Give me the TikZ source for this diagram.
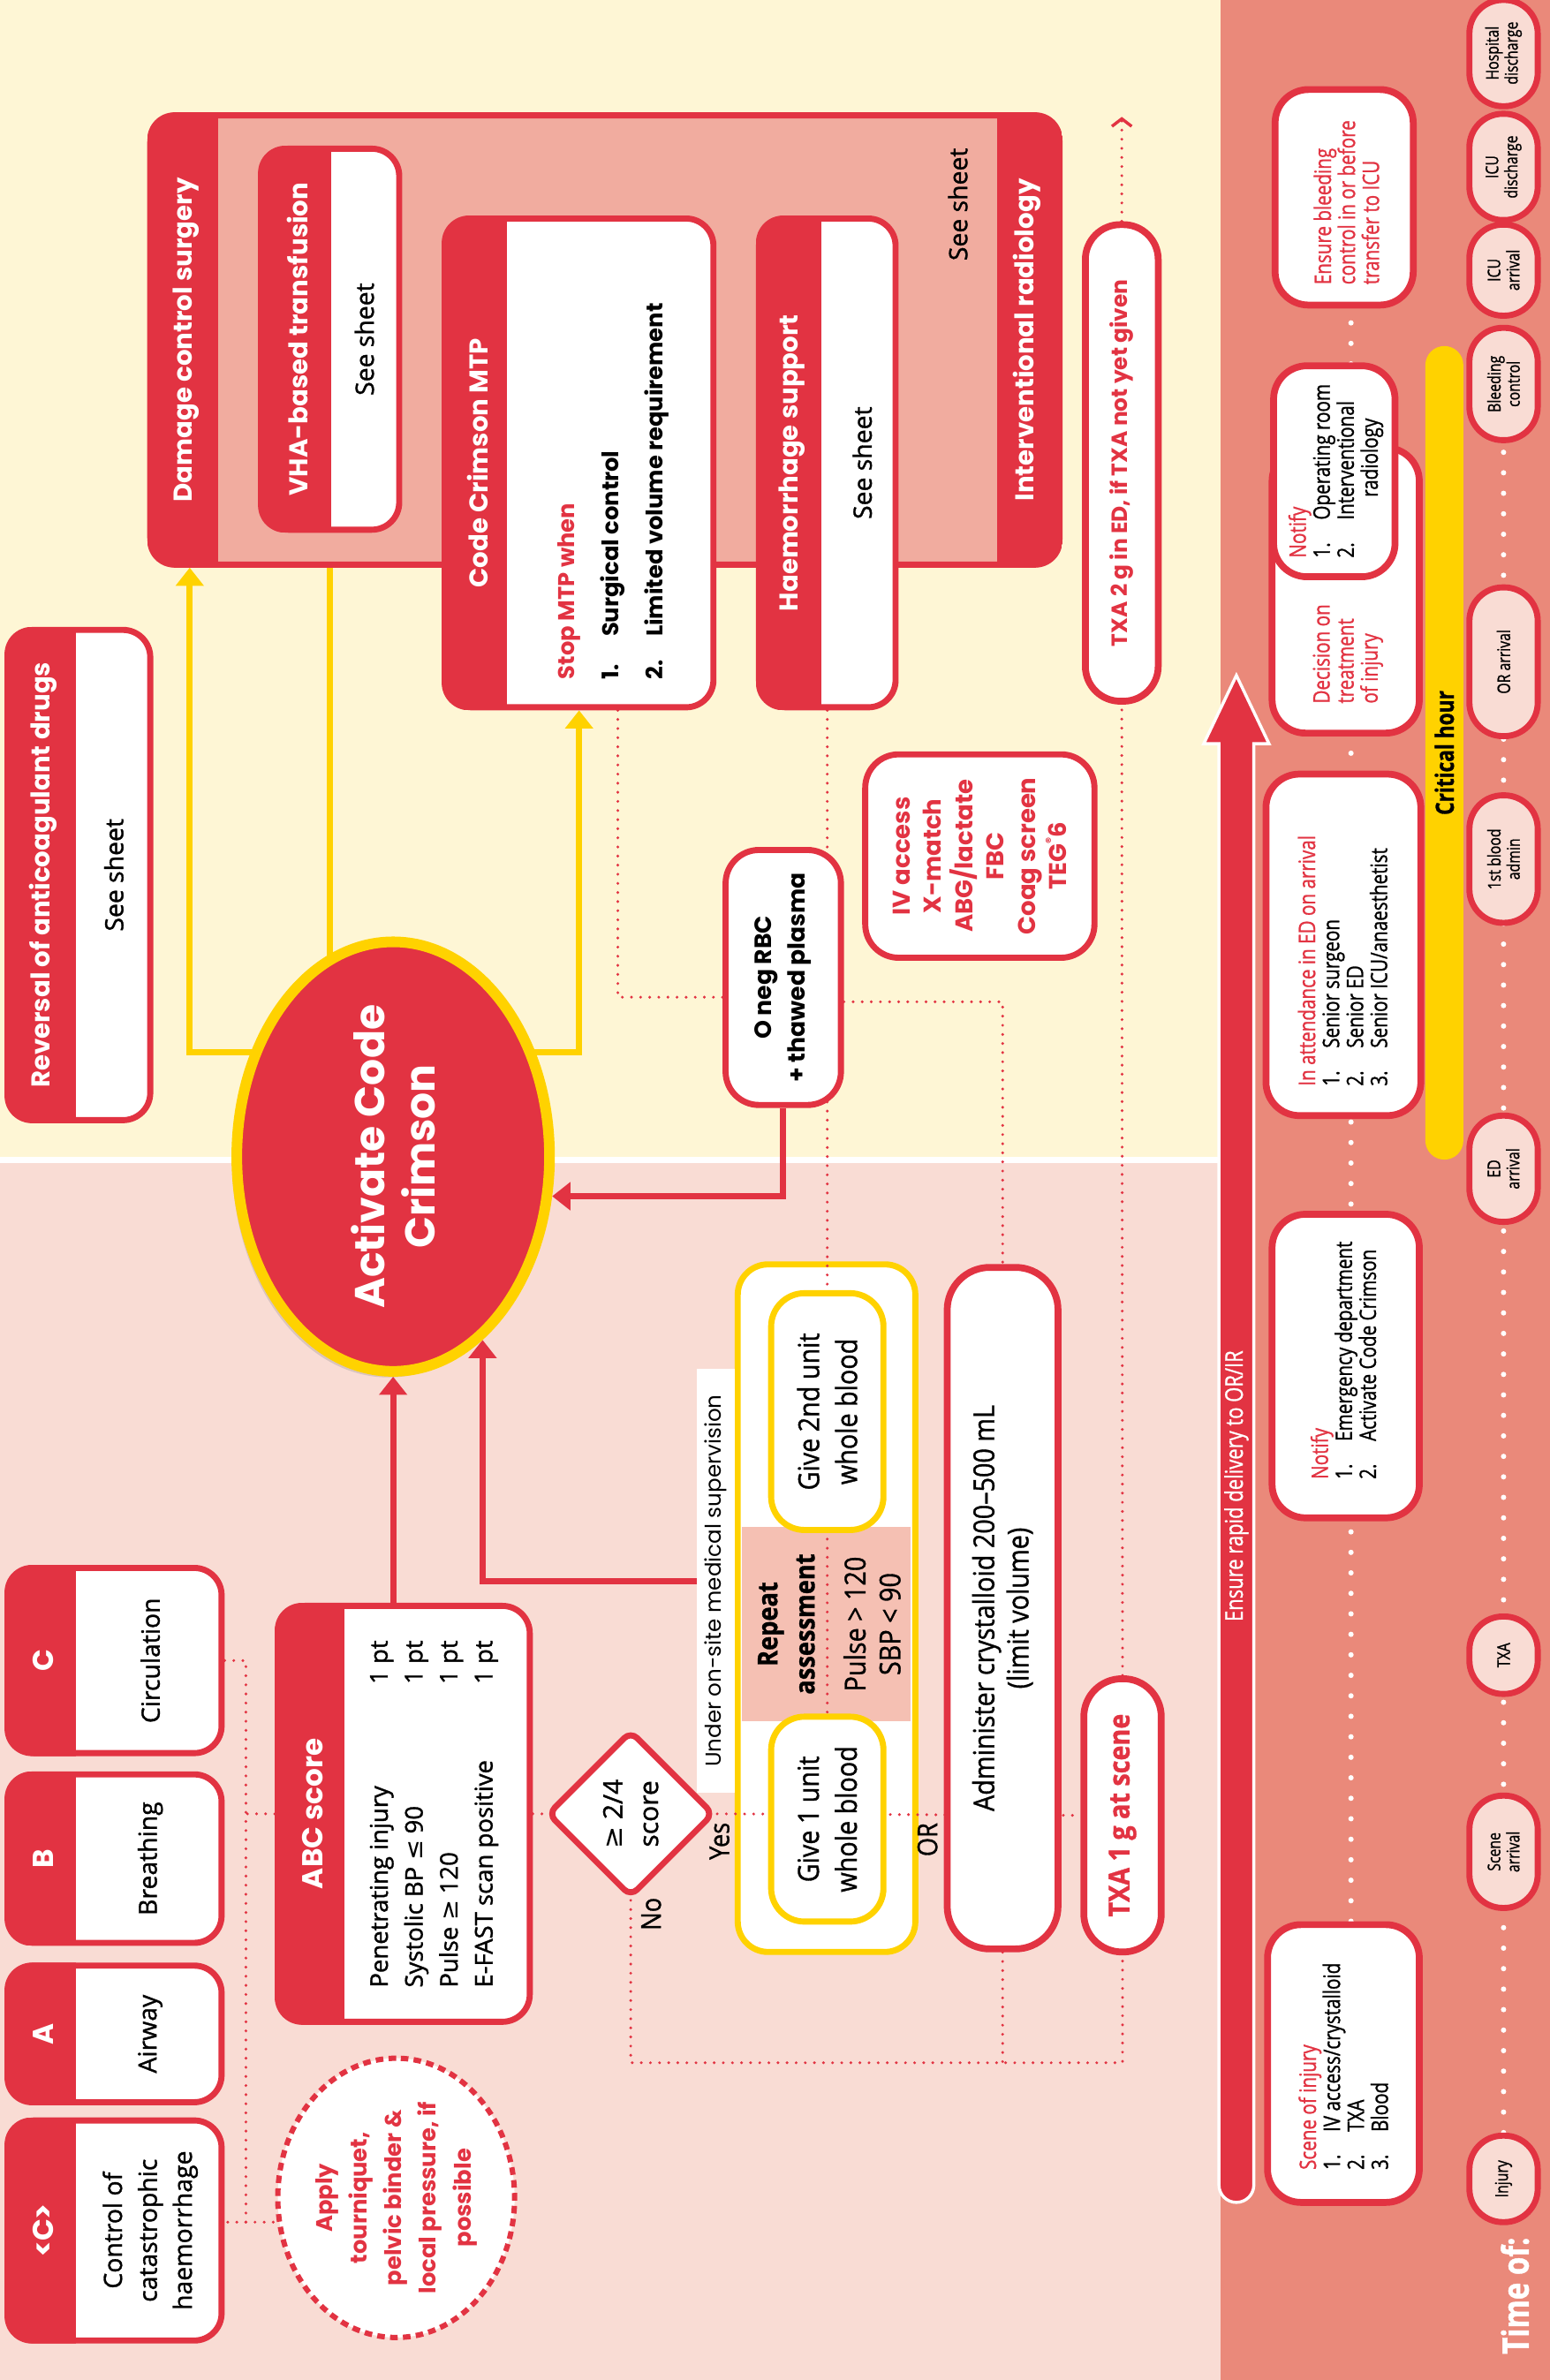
\documentclass[tikz,border=0pt]{standalone}
\usepackage{fontspec}
\setmainfont{Open Sans}
\newfontfamily\popfont{Poppins}
\newfontfamily\semifont[FakeBold=1.2]{Open Sans}
\newfontfamily\condfont[FakeStretch=0.88, FakeBold=1]{Open Sans}
\newfontfamily\narrowfont[FakeStretch=0.8, FakeBold=1]{Open Sans}
\newfontfamily\dejavu{DejaVu Sans}
\usetikzlibrary{calc, shapes.geometric, arrows.meta, shadows}

\definecolor{crimson}{HTML}{E23342}
\definecolor{ylw}{HTML}{FFD200}
\definecolor{bgyellow}{HTML}{FEF6D5}
\definecolor{bgpink}{HTML}{F9DCD4}
\definecolor{stripred}{HTML}{EA897A}
\definecolor{salmon}{HTML}{F1AC9F}
\definecolor{bandpink}{HTML}{F5C0B3}

\pgfdeclarelayer{bg}
\pgfdeclarelayer{lines}
\pgfsetlayers{bg,lines,main}

% red header band / footer band of a box node
\newcommand{\headfill}[2]{%
  \begin{scope}
    \clip[rounded corners=18pt] (#1.south west) rectangle (#1.north east);
    \fill[crimson] (#1.north west) rectangle ($(#1.north east)+(0,-#2)$);
  \end{scope}}
\newcommand{\footfill}[2]{%
  \begin{scope}
    \clip[rounded corners=18pt] (#1.south west) rectangle (#1.north east);
    \fill[crimson] (#1.south west) rectangle ($(#1.south east)+(0,#2)$);
  \end{scope}}

\tikzset{
  hbox/.style={draw=crimson, line width=4pt, fill=white, rounded corners=18pt, inner sep=0pt},
  ybox/.style={draw=ylw, line width=4pt, fill=white, rounded corners=20pt, inner sep=0pt},
  pillbox/.style={draw=crimson, line width=4.5pt, fill=white, inner sep=0pt},
  stripbox/.style={draw=crimson, line width=4.5pt, fill=white, rounded corners=22pt, inner sep=0pt},
  tpill/.style={draw=crimson, line width=4pt, fill=bgpink, rounded corners=22pt, minimum height=45pt,
    inner sep=0pt, align=center, font=\narrowfont\fontsize{11.5}{12.6}\selectfont},
  headtxt/.style={text=white, font=\popfont\bfseries\fontsize{17}{20}\selectfont},
  lettxt/.style={text=white, font=\popfont\bfseries\fontsize{19}{22}\selectfont},
  bodytxt/.style={align=center, font=\semifont\fontsize{16.5}{23}\selectfont},
  sheettxt/.style={font=\semifont\fontsize{16.5}{20}\selectfont},
  condtxt/.style={align=center, font=\condfont\fontsize{19}{25}\selectfont},
  striptxt/.style={anchor=west, align=left, font=\narrowfont\fontsize{15}{15.8}\selectfont},
  dotline/.style={crimson, line width=2pt, dash pattern=on 0pt off 6pt, line cap=round},
  wdots/.style={white, line width=3.5pt, dash pattern=on 0pt off 13.5pt, line cap=round},
  redarrow/.style={crimson, line width=4pt, -{Triangle[length=12pt, width=18pt]}},
  yarrow/.style={ylw, line width=4pt, -{Triangle[length=12pt, width=18pt]}},
}

\begin{document}
\begin{tikzpicture}[x=1pt, y=1pt]
\begin{scope}[rotate=90, transform shape]
\useasboundingbox (0,0) rectangle (1568,1021);

% Background panels
\begin{pgfonlayer}{bg}
  \fill[white] (0,0) rectangle (1568,1021);
  \fill[bgpink] (0,217) rectangle (802,1021);
  \fill[bgyellow] (806,217) rectangle (1568,1021);
  \fill[stripred] (0,0) rectangle (1568,217);
  % supervised group with the repeat band
  \node[ybox, minimum width=453pt, minimum height=117pt] (grp) at (508.5,476.5) {};
  \fill[bandpink] (434,421) rectangle (562,532);
\end{pgfonlayer}

% <C>, A, B, C
\node[hbox, minimum width=145pt, minimum height=141pt] (ctrl) at (98.5,945.5) {};
\node[hbox, minimum width=90pt, minimum height=141pt] (airway) at (228,945.5) {};
\node[hbox, minimum width=111pt, minimum height=141pt] (breath) at (343.5,945.5) {};
\node[hbox, minimum width=122pt, minimum height=141pt] (circ) at (474,945.5) {};
\foreach \b in {ctrl,airway,breath,circ} {\headfill{\b}{47}}
\node[lettxt] (ctrlh) at (98.5,992.5) {<C>};
\node[lettxt] (airwayh) at (228,992.5) {A};
\node[lettxt] (breathh) at (343.5,992.5) {B};
\node[lettxt] (circh) at (474,992.5) {C};
\node[bodytxt] (ctrlb) at (98.5,922) {Control of\\catastrophic\\haemorrhage};
\node[bodytxt] (airwayb) at (228,922) {Airway};
\node[bodytxt] (breathb) at (343.5,922) {Breathing};
\node[bodytxt] (circb) at (474,922) {Circulation};

% Tourniquet
\node[ellipse, draw=crimson, line width=3.5pt, dash pattern=on 5pt off 3.5pt, fill=white,
  minimum width=184pt, minimum height=156pt, inner sep=0pt, align=center, text=crimson,
  font=\popfont\bfseries\fontsize{15}{22.8}\selectfont] (torn) at (120,760)
  {Apply\\tourniquet,\\pelvic binder \&\\local pressure, if\\possible};

% ABC score
\node[hbox, minimum width=274pt, minimum height=166pt] (abc) at (373,755) {};
\headfill{abc}{46}
\node[lettxt] (abch) at (373,815) {ABC score};
\node[anchor=west, align=left, font=\semifont\fontsize{16}{23}\selectfont] (abclist) at (255,735)
  {Penetrating injury\\Systolic BP {\dejavu ≤} 90\\Pulse {\dejavu ≥} 120\\E-FAST scan positive};
\node[anchor=west, align=left, font=\semifont\fontsize{16}{23}\selectfont] (abcpts) at (455,735)
  {1 pt\\1 pt\\1 pt\\1 pt};

% Decision
\node[diamond, draw=crimson, line width=4pt, fill=white, rounded corners=6pt,
  minimum width=110pt, minimum height=110pt, inner sep=0pt, align=center,
  font=\semifont\fontsize{17.5}{23.5}\selectfont] (dia) at (373,605.5) {{\dejavu ≥} 2/4\\score};
\node[font=\condfont\fontsize{18}{20}\selectfont] (yes) at (355,547) {Yes};
\node[font=\condfont\fontsize{18}{20}\selectfont] (no) at (307,592) {No};
\node[font=\condfont\fontsize{18}{20}\selectfont] (orlbl) at (356,410) {OR};

% Supervised blood
\node[fill=white, minimum width=279pt, minimum height=25pt, inner sep=0pt,
  font=\popfont\fontsize{14.3}{16}\selectfont] (sup) at (526.5,549.5) {Under on-site medical supervision};
\node[ybox, rounded corners=22pt, minimum width=135pt, minimum height=74pt, condtxt] (unit1) at (369.5,476) {Give 1 unit\\whole blood};
\node[ybox, rounded corners=22pt, minimum width=156pt, minimum height=74pt, condtxt] (unit2) at (638,476) {Give 2nd unit\\whole blood};
\node[align=center, font=\condfont\bfseries\fontsize{18}{24.5}\selectfont] (rep) at (498,503) {Repeat\\assessment};
\node[align=center, font=\condfont\fontsize{19}{23}\selectfont] (reptrig) at (498,446.5) {Pulse > 120\\SBP < 90};

% Crystalloid and TXA at scene
\node[pillbox, rounded corners=28pt, minimum width=449pt, minimum height=73pt, align=center,
  font=\condfont\fontsize{19}{22.5}\selectfont] (cryst) at (508.5,360.5) {Administer crystalloid 200–500 mL\\(limit volume)};
\node[pillbox, rounded corners=25pt, minimum width=180pt, minimum height=51pt, text=crimson,
  font=\condfont\bfseries\fontsize{19}{22}\selectfont] (txa1) at (372,281.5) {TXA 1 g at scene};
\node[pillbox, rounded corners=23pt, minimum width=314pt, minimum height=48pt, text=crimson,
  font=\popfont\bfseries\fontsize{14.5}{17}\selectfont] (txa2) at (1263,282) {TXA 2 g in ED, if TXA not yet given};
\coordinate (txaout) at (1491,282);

% Activate Code Crimson
\node[ellipse, draw=ylw, line width=7pt, fill=crimson, minimum width=256pt, minimum height=206pt,
  inner sep=0pt, align=center, text=white, font=\popfont\bfseries\fontsize{27.5}{33}\selectfont,
  drop shadow={shadow xshift=-3pt, shadow yshift=-4pt, opacity=.25}] (ell) at (806,762) {Activate Code\\Crimson};
\coordinate (yfork) at (875,762);

% Damage control surgery / interventional radiology
\node[hbox, fill=salmon, minimum width=296pt, minimum height=599pt] (big) at (1344,622.5) {};
\headfill{big}{47}
\footfill{big}{43}
\node[headtxt] (bigh) at (1344,898.5) {Damage control surgery};
\node[headtxt] (bigf) at (1344,344.5) {Interventional radiology};
\node[sheettxt, anchor=east] (bigs) at (1474,390) {See sheet};

\node[hbox, minimum width=251pt, minimum height=91pt] (vha) at (1344.5,803.5) {};
\node[hbox, minimum width=322pt, minimum height=177pt] (mtp) at (1263,639.5) {};
\node[hbox, minimum width=322pt, minimum height=90pt] (haem) at (1263,476) {};
\headfill{vha}{48}
\headfill{mtp}{43}
\headfill{haem}{43}
\node[headtxt] (vhah) at (1344.5,825) {VHA-based transfusion};
\node[sheettxt] (vhas) at (1344.5,781) {See sheet};
\node[headtxt] (mtph) at (1263,706.5) {Code Crimson MTP};
\node[anchor=west, align=left, font=\popfont\bfseries\fontsize{15}{29}\selectfont] (mtpb) at (1117,617)
  {\textcolor{crimson}{Stop MTP when}\\\makebox[28pt][l]{1.}Surgical control\\\makebox[28pt][l]{2.}Limited volume requirement};
\node[headtxt] (haemh) at (1263,499.5) {Haemorrhage support};
\node[sheettxt] (haems) at (1263,453) {See sheet};

% ED products and tests
\node[hbox, rounded corners=22pt, minimum width=168pt, minimum height=76pt, align=center,
  font=\popfont\bfseries\fontsize{15.5}{22}\selectfont] (oneg) at (924,505) {O neg RBC\\+ thawed plasma};
\node[hbox, rounded corners=22pt, minimum width=134pt, minimum height=151pt, align=center, text=crimson,
  font=\popfont\bfseries\fontsize{16}{20.6}\selectfont] (ivbox) at (1004,375.5)
  {IV access\\X-match\\ABG/lactate\\FBC\\Coag screen\\TEG\raisebox{0.5em}{\fontsize{8}{8}\selectfont ®}6};

% Reversal
\node[hbox, minimum width=323pt, minimum height=94pt] (rev) at (991.5,969) {};
\headfill{rev}{47}
\node[headtxt] (revh) at (991.5,992.5) {Reversal of anticoagulant drugs};
\node[sheettxt] (revs) at (991.5,946) {See sheet};

% Timeline strip: delivery arrow
\draw[white, line width=2pt, fill=crimson] (1078,195) -- (128.5,195)
  arc[start angle=270, end angle=90, radius=11.5] -- (1078,218) -- (1078,228)
  -- (1123,206.5) -- (1078,185) -- cycle;
\node[text=white, font=\narrowfont\fontsize{16}{18}\selectfont] (dellbl) at (589,206.5) {Ensure rapid delivery to OR/IR};

% Timeline strip: boxes
\node[stripbox, minimum width=183pt, minimum height=100pt] (scene) at (208.5,136) {};
\node[striptxt] (scenet) at (135,136) {\textcolor{crimson}{Scene of injury}\\\makebox[25pt][l]{1.}IV access/crystalloid\\\makebox[25pt][l]{2.}TXA\\\makebox[25pt][l]{3.}Blood};
\node[stripbox, minimum width=200pt, minimum height=97pt] (edbox) at (668,134.5) {};
\node[striptxt] (edboxt) at (590,136) {\textcolor{crimson}{Notify}\\\makebox[25pt][l]{1.}Emergency department\\\makebox[25pt][l]{2.}Activate Code Crimson};
\node[stripbox, minimum width=225pt, minimum height=102pt] (attend) at (945.5,136) {};
\node[striptxt] (attendt) at (849,136.5) {\textcolor{crimson}{In attendance in ED on arrival}\\\makebox[25pt][l]{1.}Senior surgeon\\\makebox[25pt][l]{2.}Senior ED\\\makebox[25pt][l]{3.}Senior ICU/anaesthetist};
\node[stripbox, minimum width=188pt, minimum height=97pt] (decision) at (1179,134.5) {};
\node[striptxt, text=crimson] (decisiont) at (1101,133) {Decision on\\treatment\\of injury};
\node[stripbox, minimum width=139pt, minimum height=80pt] (ornot) at (1257.5,142) {};
\node[striptxt] (ornott) at (1197,141) {\textcolor{crimson}{Notify}\\\makebox[25pt][l]{1.}Operating room\\\makebox[25pt][l]{2.}Interventional\\\hspace*{40pt}radiology};
\node[stripbox, minimum width=142pt, minimum height=91pt] (ensure) at (1438,135.5) {};
\node[striptxt, text=crimson] (ensuret) at (1377,134) {Ensure bleeding\\control in or before\\transfer to ICU};
\node[fill=ylw, rounded corners=12.5pt, minimum width=536pt, minimum height=25pt, inner sep=0pt,
  font=\narrowfont\bfseries\fontsize{16.5}{18}\selectfont] (crit) at (1072,69.5) {Critical hour};

% Timeline strip: time points
\node[tpill, minimum width=57pt] (injury) at (132.5,30.5) {Injury};
\node[tpill, minimum width=74pt] (scenearr) at (348,30.5) {Scene\\arrival};
\node[tpill, minimum width=51pt] (txap) at (477.5,30.5) {TXA};
\node[tpill, minimum width=70pt] (edarr) at (798,30.5) {ED\\arrival};
\node[tpill, minimum width=84pt] (blood1) at (1002,30.5) {1st blood\\admin};
\node[tpill, minimum width=98pt] (orarr) at (1132,30.5) {OR arrival};
\node[tpill, minimum width=74pt] (bleedc) at (1315,30.5) {Bleeding\\control};
\node[tpill, minimum width=60pt] (icuarr) at (1390,30.5) {ICU\\arrival};
\node[tpill, minimum width=70pt] (icudis) at (1458,30.5) {ICU\\discharge};
\node[tpill, minimum width=70pt] (hospdis) at (1533,30.5) {Hospital\\discharge};
\node[text=white, font=\narrowfont\bfseries\fontsize{24}{26}\selectfont] (timeof) at (55.5,23) {Time of:};

% Connectors
\begin{pgfonlayer}{lines}
  % dotted links
  \coordinate (busb) at (104,859);
  \draw[dotline] (circ.south) |- (busb) -- (busb |- ctrl.south);
  \draw[dotline] (busb) -- (busb |- torn.north);
  \draw[dotline] (abc.north) -- (abc.north |- busb);
  \draw[dotline] (abc.south) -- (dia.north);
  \draw[dotline] (dia.south) -- (txa1.north);
  \coordinate (nobus) at ($(dia.west)+(-107,0)$);
  \draw[dotline] (dia.west) -- (nobus) |- (txa1.west);
  \draw[dotline] (cryst.west) -- (cryst.west -| nobus);
  \draw[dotline] (txa1.east) -- (txa2.west);
  \draw[dotline, -{Straight Barb[length=5pt, width=13pt, line width=2pt]}] (txa2.east) -- (txaout);
  \draw[dotline] (haem.west) -- (unit1.east);
  \coordinate (mtpout) at ($(mtp.west)+(0,-25.5)$);
  \coordinate (onegin) at ($(oneg.north)+(-13,0)$);
  \draw[dotline] (mtpout) -| (onegin);
  \coordinate (onegout) at ($(oneg.south)+(-16,0)$);
  \draw[dotline] (onegout) |- (cryst.east);
  % yellow activation arrows
  \draw[yarrow] (yfork) |- ($(big.north west)+(0,-28)$);
  \draw[yarrow] (yfork) |- (mtp.west);
  \draw[yarrow] (ell.center |- vha.west) -- (vha.west);
  % red arrows into activation
  \draw[redarrow] (abc.east |- ell.west) -- (ell.west);
  \draw[redarrow] (sup.north) |- (ell.206);
  \draw[redarrow] (oneg.west) -| (ell.256);
  % white timeline dots
  \coordinate (stripline) at (0,131);
  \draw[wdots] (scene.east |- stripline) -- (ensure.west |- stripline);
  \draw[wdots] (injury) -- (hospdis);
\end{pgfonlayer}

\end{scope}
\end{tikzpicture}
\end{document}
